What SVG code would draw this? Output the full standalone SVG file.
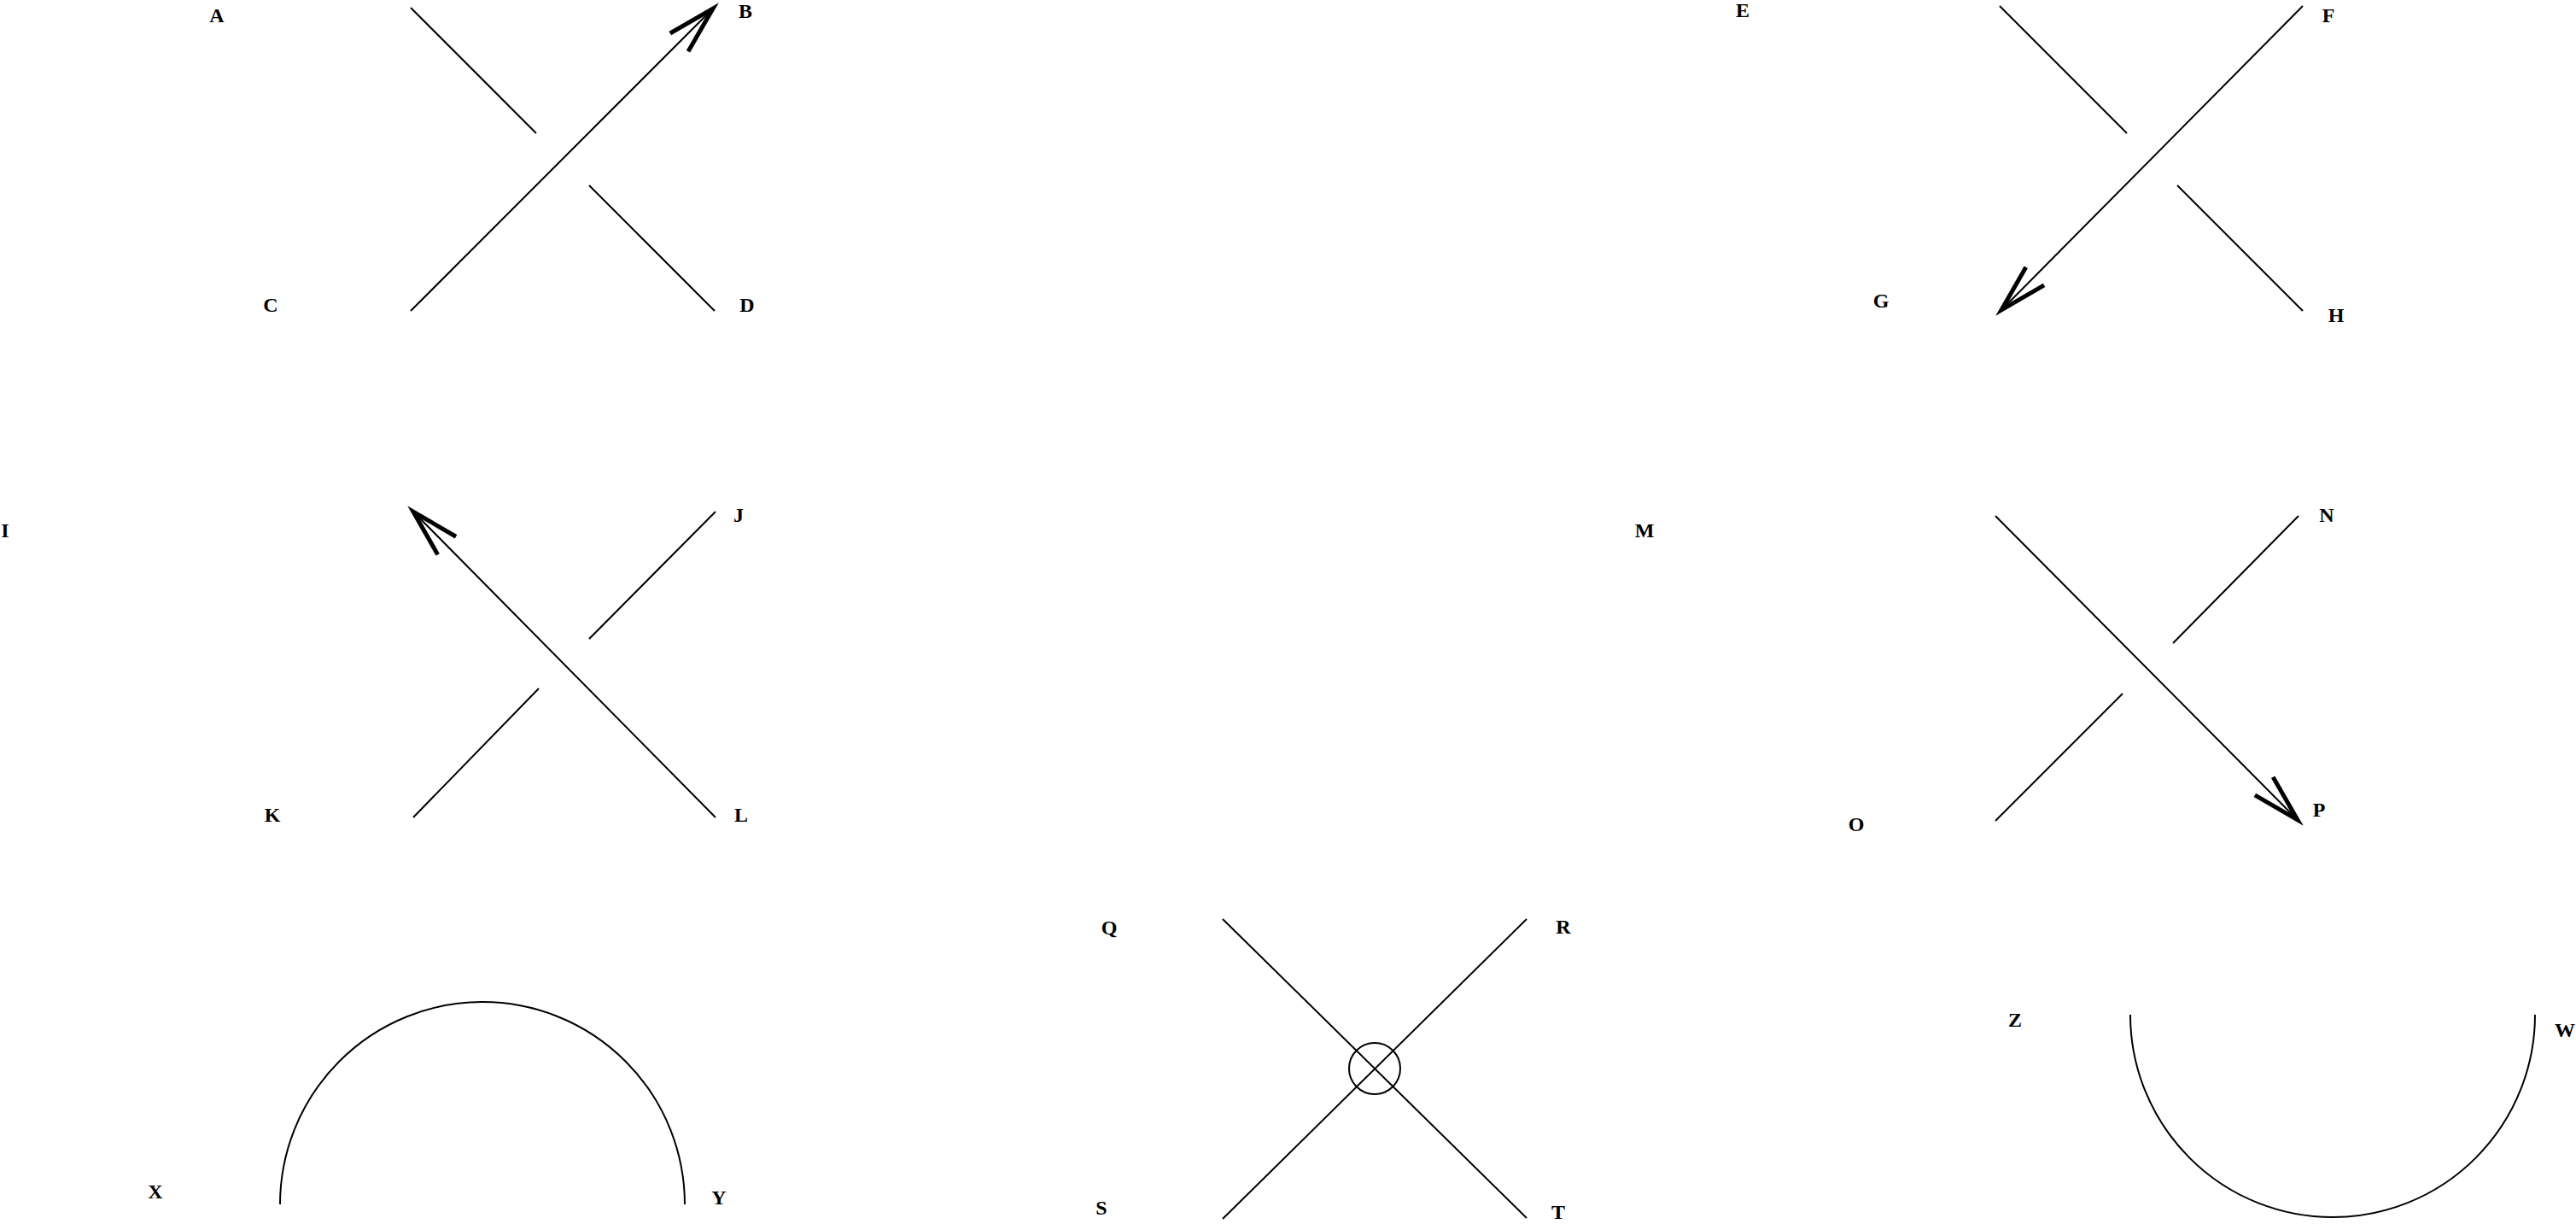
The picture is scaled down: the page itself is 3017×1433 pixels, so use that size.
<svg xmlns="http://www.w3.org/2000/svg" width="3017" height="1433" viewBox="0 0 3017 1433">
<style>
.s{stroke:#000;stroke-width:2;fill:none;stroke-linecap:butt}
.a{marker-end:url(#v)}
text{font-family:"Liberation Serif","Times New Roman",serif;font-size:24px;font-weight:bold;fill:#000;text-anchor:middle}
</style>
<defs>
<marker id="v" markerUnits="userSpaceOnUse" viewBox="-62 -20 66 40" refX="0" refY="0" markerWidth="66" markerHeight="40" orient="auto" overflow="visible">
<path d="M-56,-15 L0,0 L-56,15" fill="none" stroke="#000" stroke-width="5" stroke-linejoin="miter"/>
</marker>
</defs>
<rect width="3017" height="1433" fill="#fff"/>
<g id="connectors">
<g id="crossing1">
<line class="s a" x1="481" y1="364" x2="835" y2="10"/>
<line class="s" x1="481" y1="9" x2="628" y2="156"/>
<line class="s" x1="690" y1="217" x2="837" y2="364"/>
</g>
<g id="crossing2">
<line class="s a" x1="2697" y1="7" x2="2344" y2="363"/>
<line class="s" x1="2342" y1="7" x2="2491" y2="156"/>
<line class="s" x1="2550" y1="217" x2="2697" y2="364"/>
</g>
<g id="crossing3">
<line class="s a" x1="838" y1="957" x2="484" y2="599"/>
<line class="s" x1="838" y1="599" x2="690" y2="748"/>
<line class="s" x1="631" y1="806" x2="484" y2="957"/>
</g>
<g id="crossing4">
<line class="s a" x1="2337" y1="604" x2="2691" y2="960"/>
<line class="s" x1="2692" y1="604" x2="2545" y2="753"/>
<line class="s" x1="2486" y1="812" x2="2337" y2="961"/>
</g>
<g id="cap">
<path class="s" d="M328,1410 A237,237 0 0 1 802,1410"/>
</g>
<g id="virtual">
<line class="s" x1="1432" y1="1076" x2="1788" y2="1426"/>
<line class="s" x1="1432" y1="1427" x2="1788" y2="1076"/>
<circle class="s" cx="1610" cy="1251" r="30"/>
</g>
<g id="cup">
<path class="s" d="M2495,1188 A237,237 0 0 0 2969,1188"/>
</g>
</g>
<g id="labels">
<g id="nA"><text x="254" y="26">A</text></g>
<g id="nB"><text x="873" y="21">B</text></g>
<g id="nC"><text x="317" y="365">C</text></g>
<g id="nD"><text x="875" y="365">D</text></g>
<g id="nE"><text x="2041" y="20">E</text></g>
<g id="nF"><text x="2727" y="26">F</text></g>
<g id="nG"><text x="2203" y="360">G</text></g>
<g id="nH"><text x="2736" y="377">H</text></g>
<g id="nI"><text x="6" y="629">I</text></g>
<g id="nJ"><text x="865" y="611">J</text></g>
<g id="nK"><text x="319" y="962">K</text></g>
<g id="nL"><text x="868" y="962">L</text></g>
<g id="nM"><text x="1926" y="629">M</text></g>
<g id="nN"><text x="2725" y="611">N</text></g>
<g id="nO"><text x="2174" y="973">O</text></g>
<g id="nP"><text x="2716" y="956">P</text></g>
<g id="nQ"><text x="1299" y="1094">Q</text></g>
<g id="nR"><text x="1831" y="1093">R</text></g>
<g id="nS"><text x="1290" y="1422">S</text></g>
<g id="nT"><text x="1825" y="1427">T</text></g>
<g id="nX"><text x="182" y="1403">X</text></g>
<g id="nY"><text x="842" y="1410">Y</text></g>
<g id="nZ"><text x="2360" y="1202">Z</text></g>
<g id="nW"><text x="3004" y="1214">W</text></g>
</g>
</svg>
